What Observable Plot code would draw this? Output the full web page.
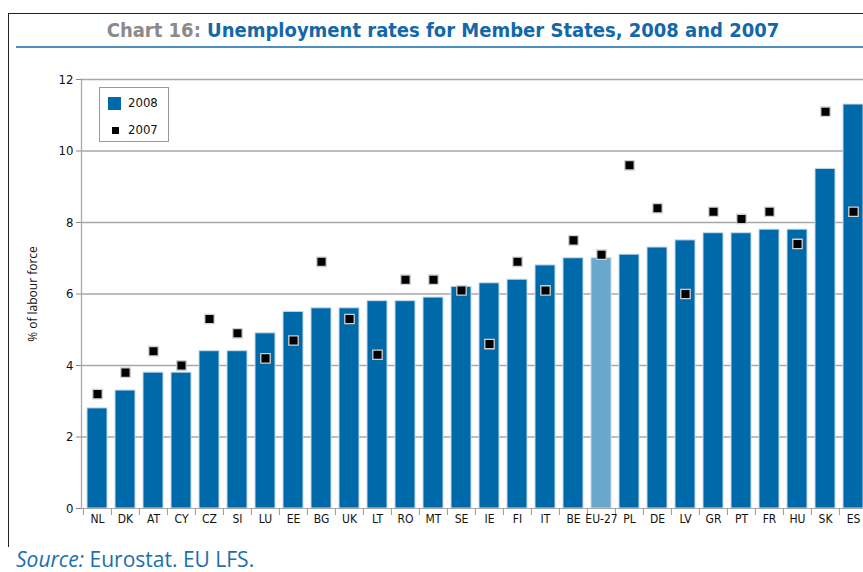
<!DOCTYPE html>
<html>
<head>
<meta charset="utf-8">
<script src="https://cdn.jsdelivr.net/npm/d3@7"></script>
<script src="https://cdn.jsdelivr.net/npm/@observablehq/plot@0.6"></script>
<style>
  html, body { margin: 0; padding: 0; background: #fff; }
  #wrap { position: relative; width: 863px; height: 572px; overflow: hidden; font-family: "DejaVu Sans Condensed", "Liberation Sans Narrow", sans-serif; }
  #frameTop { position: absolute; left: 8px; top: 13px; width: 870px; height: 0; border-top: 1.5px solid #222; }
  #frameLeft { position: absolute; left: 7.5px; top: 13px; width: 0; height: 534px; border-left: 1.5px solid #222; }
  #title { position: absolute; left: 0; width: 886px; top: 18px; text-align: center; font-weight: bold; font-size: 20px; color: #1268a8; white-space: nowrap; }
  #title .lead { color: #8a8a8a; }
  #rule { position: absolute; left: 16px; top: 46px; width: 860px; height: 0; border-top: 2px solid #4b8fc0; }
  #chart { position: absolute; left: 0; top: 50px; }
  #legend { position: absolute; left: 99px; top: 87px; width: 68px; height: 53px; border: 1px solid #999; background: #fff; font-size: 13px; color: #111; }
  #legend .sw { position: absolute; }
  #legend .lab { position: absolute; left: 28px; }
  #source { position: absolute; left: 16px; top: 549px; line-height: 21px; font-family: "Open Sans", "Noto Sans", sans-serif; font-size: 21px; color: #1a6fb0; white-space: nowrap; }
</style>
</head>
<body>
<div id="wrap">
  <div id="frameTop"></div>
  <div id="frameLeft"></div>
  <div id="title"><span class="lead">Chart 16:</span> Unemployment rates for Member States, 2008 and 2007</div>
  <div id="rule"></div>
  <div id="chart"></div>
  <div id="legend"></div>
  <div id="source"><i>Source:</i> Eurostat. EU LFS.</div>
</div>
<script>
const countries = ["NL","DK","AT","CY","CZ","SI","LU","EE","BG","UK","LT","RO","MT","SE","IE","FI","IT","BE","EU-27","PL","DE","LV","GR","PT","FR","HU","SK","ES"];
const rate2008 = [2.8,3.3,3.8,3.8,4.4,4.4,4.9,5.5,5.6,5.6,5.8,5.8,5.9,6.2,6.3,6.4,6.8,7.0,7.0,7.1,7.3,7.5,7.7,7.7,7.8,7.8,9.5,11.3];
const rate2007 = [3.2,3.8,4.4,4.0,5.3,4.9,4.2,4.7,6.9,5.3,4.3,6.4,6.4,6.1,4.6,6.9,6.1,7.5,7.1,9.6,8.4,6.0,8.3,8.1,8.3,7.4,11.1,8.3];
const yTicks = [0,2,4,6,8,10,12];
const seriesLabels = ["2008","2007"];
const colorMS = "#0069aa";
const colorEU = "#69a7cd";

const data = countries.map((c, i) => ({country: c, v2008: rate2008[i], v2007: rate2007[i]}));

const xRange = [81, 869];
const step = (xRange[1] - xRange[0]) / countries.length;

const chart = Plot.plot({
  width: 863,
  height: 480,
  marginTop: 29,
  marginBottom: 22,
  marginLeft: 81,
  marginRight: 0,
  style: {fontFamily: "'DejaVu Sans Condensed', 'Liberation Sans Narrow', sans-serif", fontSize: "12px", color: "#111", background: "transparent"},
  x: {domain: countries, range: xRange, padding: 0},
  y: {domain: [0, 12]},
  marks: [
    Plot.gridY(yTicks.filter(t => t > 0), {stroke: "#a8a8a8", strokeOpacity: 1, strokeWidth: 1.3}),
    Plot.barY(data, {x: "country", y: "v2008", fill: d => d.country === "EU-27" ? colorEU : colorMS, stroke: "#c4dbec", strokeWidth: 1, insetLeft: 4, insetRight: 4}),
    Plot.dot(data, {x: "country", y: "v2007", symbol: "square", r: 5.3, fill: "#000", stroke: "#d0d0d0", strokeWidth: 1.3}),
    Plot.ruleY([0], {stroke: "#a8a8a8", strokeWidth: 1}),
    Plot.frame({anchor: "left", stroke: "#a8a8a8", strokeWidth: 1.3}),
    Plot.axisY({ticks: yTicks, tickSize: 5, tickPadding: 3, stroke: "#888", fontSize: 13, label: "% of labour force", labelAnchor: "center", labelArrow: "none", labelOffset: 53, tickFormat: d => d}),
    Plot.axisX({tickSize: 7, tickFormat: () => "", dx: -step / 2, stroke: "#999", label: null}),
    Plot.axisX({tickSize: 0, tickPadding: 6, fontSize: 12, label: null})
  ]
});
document.getElementById("chart").appendChild(chart);

chart.querySelectorAll("g[aria-label='y-axis label'] text").forEach(t => {
  t.style.fontFamily = "'Open Sans', 'Noto Sans', sans-serif";
  t.style.fontSize = "12px";
});

const legend = document.getElementById("legend");
legend.innerHTML = `
  <div class="sw" style="left:8px;top:9px;width:13px;height:13px;background:${colorMS}"></div>
  <div class="lab" style="top:7px">${seriesLabels[0]}</div>
  <div class="sw" style="left:12px;top:39px;width:7px;height:7px;background:#000"></div>
  <div class="lab" style="top:34px">${seriesLabels[1]}</div>`;
</script>
</body>
</html>
